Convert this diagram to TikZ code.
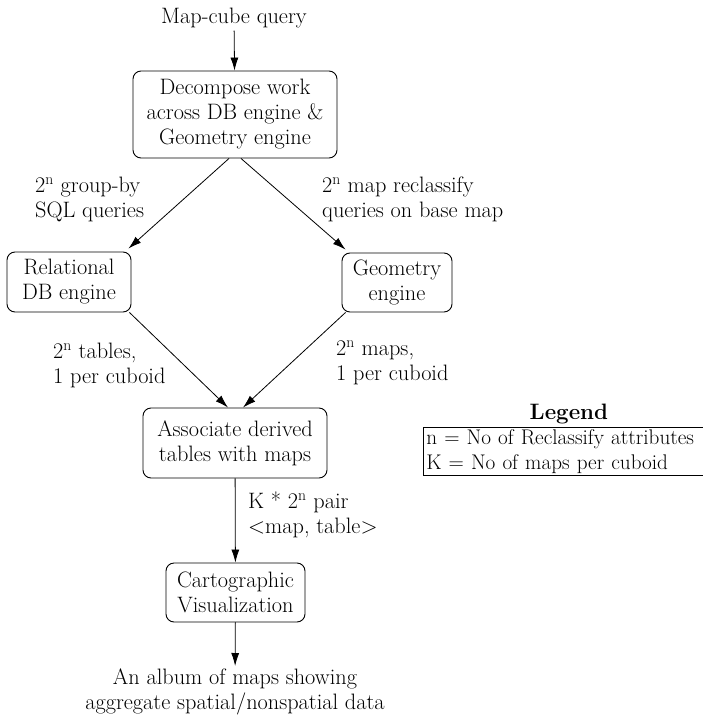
\documentclass[tikz,border=0pt]{standalone}
\usetikzlibrary{arrows.meta,positioning}
\newcommand{\diagfont}{\fontsize{22.3}{25}\selectfont}
\newcommand{\legendfont}{\fontsize{21.2}{25}\selectfont}
\begin{document}
\begin{tikzpicture}[
        x=1pt, y=-1pt,
        every node/.style={font=\diagfont},
        stage/.style={draw, rounded corners=8pt, line width=0.9pt, align=center, inner sep=2pt},
        note/.style={align=left, inner sep=0pt, anchor=base west},
        arr/.style={line width=0.8pt, -{Latex[length=13pt,width=8pt]}},
    ]
    \useasboundingbox (0,0) rectangle (702,715);
    \node[anchor=base, inner sep=3pt](query) at (234,23){Map-cube query};
    \node[stage, minimum width=204pt, minimum height=87pt](decompose) at (235,114.5){Decompose work\\across DB engine \&\\Geometry engine};
    \node[stage, minimum width=124pt, minimum height=60pt](relational) at (69,282){Relational\\DB engine};
    \node[stage, minimum width=110pt, minimum height=59pt](geometry) at (397,282.5){Geometry\\engine};
    \node[stage, minimum width=184pt, minimum height=70pt](associate) at (235,443){Associate derived\\tables with maps};
    \node[stage, minimum width=139pt, minimum height=59pt](carto) at (235.5,592.5){Cartographic\\Visualization};
    \node[align=center, anchor=north, inner sep=3pt](album) at (235,666){An album of maps showing\\aggregate spatial/nonspatial data};
    % edge labels (base is the last line)
    \node[note](groupby) at (35,217){2\textsuperscript{n} group-by\\SQL queries};
    \node[note](reclassify) at (322,217){2\textsuperscript{n} map reclassify\\queries on base map};
    \node[note](tables) at (53,383){2\textsuperscript{n} tables,\\1 per cuboid};
    \node[note](maps) at (336,380){2\textsuperscript{n} maps,\\1 per cuboid};
    \node[note](pair) at (248,533){K * 2\textsuperscript{n} pair\\\textless map, table\textgreater};
    % legend
    \node[draw, line width=0.8pt, anchor=north west, align=left, font=\legendfont, minimum width=285pt, minimum height=46pt, inner xsep=3pt, inner ysep=2pt, text width=285pt](legend) at (423,427){n = No of Reclassify attributes\\K = No of maps per cuboid};
    \node[above=3pt of legend, inner sep=0pt, font=\diagfont\bfseries](legendtitle){Legend};
    % connectors
    \draw[arr] (query) -- (decompose);
    \draw[arr] ([xshift=-6pt]decompose.south) -- ([shift={(-3pt,3pt)}]relational.north east);
    \draw[arr] ([xshift=6pt]decompose.south) -- ([shift={(4pt,3pt)}]geometry.north west);
    \draw[arr] ([xshift=-2pt]relational.south east) -- ([xshift=-7pt]associate.north);
    \draw[arr] ([xshift=4pt]geometry.south west) -- ([xshift=8pt]associate.north);
    \draw[arr] (associate) -- (carto);
    \draw[arr] (carto) -- (album);
\end{tikzpicture}
\end{document}
